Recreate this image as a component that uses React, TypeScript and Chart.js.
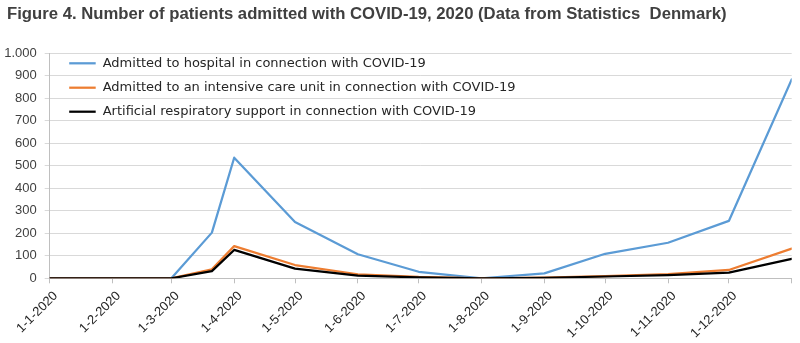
import React, { useEffect, useRef } from "react";
import { Chart, registerables } from "chart.js";

Chart.register(...registerables);

const titleText = "Figure 4. Number of patients admitted with COVID-19, 2020 (Data from Statistics  Denmark)";

// x positions are day-of-year (0 = 1 January 2020)
const monthStartDays = [0, 31, 60, 91, 121, 152, 182, 213, 244, 274, 305, 335, 366];
const monthLabels = [
  "1-1-2020", "1-2-2020", "1-3-2020", "1-4-2020", "1-5-2020", "1-6-2020",
  "1-7-2020", "1-8-2020", "1-9-2020", "1-10-2020", "1-11-2020", "1-12-2020", "",
];

const pointDays = [0, 31, 60, 80, 91, 121, 152, 182, 213, 244, 274, 305, 335, 366];
const hospital = [0, 0, 0, 203, 536, 250, 107, 29, 0, 22, 109, 158, 255, 884];
const icu = [0, 0, 0, 40, 143, 59, 18, 6, 0, 3, 10, 19, 37, 132];
const respirator = [0, 0, 0, 32, 126, 43, 12, 4, 0, 2, 8, 14, 25, 86];

const seriesLabels = [
  "Admitted to hospital in connection with COVID-19",
  "Admitted to an intensive care unit in connection with COVID-19",
  "Artificial respiratory support in connection with COVID-19",
];
const seriesColors = ["#5B9BD5", "#ED7D31", "#000000"];

const FONT = "'Liberation Sans', Arial, sans-serif";
const LEGEND_FONT = "'DejaVu Sans', sans-serif";

const toPoints = (vals: number[]) => vals.map((v, i) => ({ x: pointDays[i], y: v }));

const titlePlugin = {
  id: "customTitle",
  afterDraw(chart: any) {
    const ctx = chart.ctx;
    ctx.save();
    ctx.font = `bold 16.7px ${FONT}`;
    ctx.fillStyle = "#404040";
    ctx.textAlign = "left";
    ctx.textBaseline = "middle";
    ctx.fillText(titleText, 7, 14.5);
    ctx.restore();
  },
};

const legendPlugin = {
  id: "customLegend",
  afterDraw(chart: any) {
    const ctx = chart.ctx;
    const { left, top } = chart.chartArea;
    const rows = [10, 34.4, 58.4];
    ctx.save();
    ctx.font = `13px ${LEGEND_FONT}`;
    ctx.textBaseline = "middle";
    ctx.textAlign = "left";
    seriesLabels.forEach((label, i) => {
      const y = top + rows[i];
      ctx.strokeStyle = seriesColors[i];
      ctx.lineWidth = 2.25;
      ctx.beginPath();
      ctx.moveTo(left + 19.5, y);
      ctx.lineTo(left + 46, y);
      ctx.stroke();
      ctx.fillStyle = "#262626";
      ctx.fillText(label, left + 53, y);
    });
    ctx.restore();
  },
};

export default function App() {
  const ref = useRef<HTMLCanvasElement | null>(null);
  useEffect(() => {
    document.body.style.margin = "0";
    const canvas = ref.current!;
    const chart = new Chart(canvas, {
      type: "line",
      data: {
        datasets: [
          { label: seriesLabels[0], data: toPoints(hospital), borderColor: seriesColors[0], order: 2 },
          { label: seriesLabels[1], data: toPoints(icu), borderColor: seriesColors[1], order: 1 },
          { label: seriesLabels[2], data: toPoints(respirator), borderColor: seriesColors[2], order: 0 },
        ] as any,
      },
      options: {
        responsive: false,
        animation: false,
        layout: { padding: { top: 53.3, right: 8.3, left: 0, bottom: 0 } },
        elements: {
          point: { radius: 0 },
          line: { borderWidth: 2.25, tension: 0, borderJoinStyle: "round", borderCapStyle: "round" },
        },
        plugins: { legend: { display: false }, title: { display: false }, tooltip: { enabled: false } },
        scales: {
          x: {
            type: "linear",
            min: 0,
            max: 366,
            afterBuildTicks(scale: any) {
              scale.ticks = monthStartDays.map((v) => ({ value: v }));
            },
            afterFit(scale: any) {
              scale.height = 64.7;
              scale.paddingLeft = 0;
              scale.paddingRight = 0;
            },
            ticks: {
              autoSkip: false,
              minRotation: 45,
              maxRotation: 45,
              padding: 5,
              labelOffset: 6,
              color: "#262626",
              font: { family: FONT, size: 13 },
              callback: (_v: any, i: number) => monthLabels[i] ?? "",
            },
            grid: { drawOnChartArea: false, drawTicks: true, tickLength: 5, color: "#BFBFBF" },
            border: { display: true, color: "#BFBFBF" },
          },
          y: {
            min: 0,
            max: 1000,
            afterFit(scale: any) {
              scale.width = 49.7;
              scale.paddingTop = 0;
              scale.paddingBottom = 0;
            },
            ticks: {
              stepSize: 100,
              padding: 8,
              color: "#404040",
              font: { family: FONT, size: 13 },
              callback: (v: any) => String(v).replace(/\B(?=(\d{3})+(?!\d))/g, "."),
            },
            grid: { color: "#D9D9D9", tickLength: 5, drawTicks: true },
            border: { display: true, color: "#BFBFBF" },
          },
        },
      } as any,
      plugins: [titlePlugin, legendPlugin],
    });
    return () => chart.destroy();
  }, []);
  return (
    <div style={{ width: 800, height: 343 }}>
      <canvas ref={ref} width={800} height={343} />
    </div>
  );
}
